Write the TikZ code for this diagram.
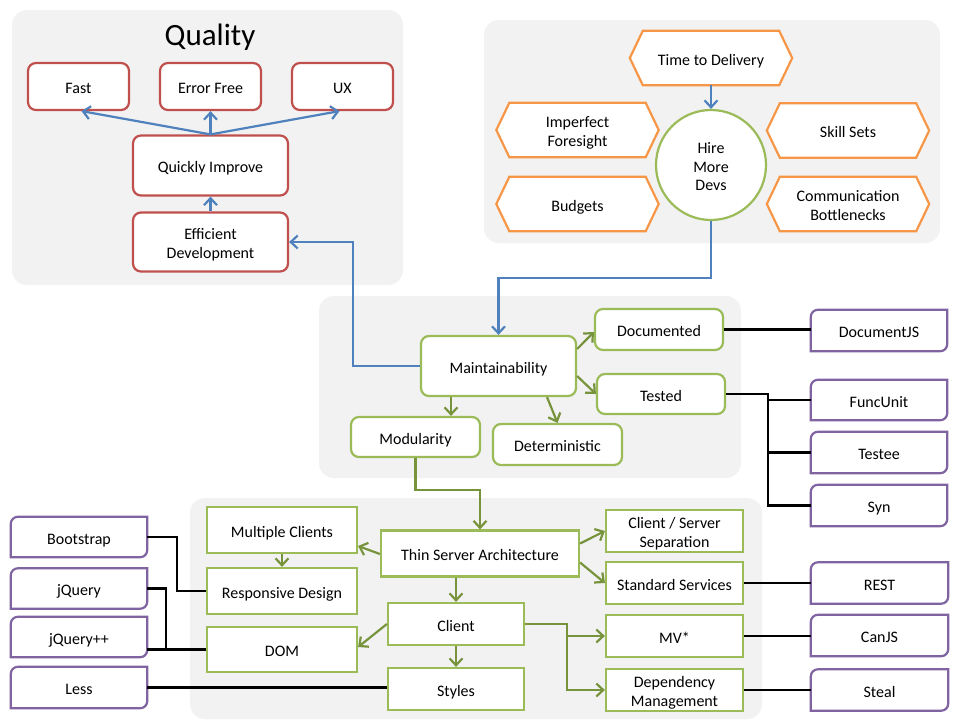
\documentclass[tikz,border=0pt]{standalone}
\usepackage{fontspec}
\setmainfont{Carlito}
\usetikzlibrary{arrows.meta,calc}
\pgfdeclarelayer{bg}\pgfdeclarelayer{mid}\pgfsetlayers{bg,mid,main}
\definecolor{qred}{HTML}{C0504D}
\definecolor{qblue}{HTML}{4F81BD}
\definecolor{qorange}{HTML}{F79646}
\definecolor{qgreen}{HTML}{9BBB59}
\definecolor{qdgreen}{HTML}{77933C}
\definecolor{qpurple}{HTML}{8064A2}
\definecolor{qpanel}{HTML}{F2F2F2}
\newcommand\tstrut{\rule{0pt}{18pt}}
\newcommand\bstrut{\rule[-4pt]{0pt}{4pt}}
\begin{document}
\begin{tikzpicture}[x=1pt,y=-1pt,
  txt/.style={font=\fontsize{16pt}{18.5pt}\selectfont, align=center, inner sep=0pt,
    execute at begin node={\tstrut},
    execute at end node={\bstrut}},
  sz/.style 2 args={minimum width=#1pt, minimum height=#2pt},
  redbox/.style={txt, draw=qred, line width=2.2pt, rounded corners=8pt, fill=white},
  grbox/.style={txt, draw=qgreen, line width=2.2pt, rounded corners=8pt, fill=white},
  gsbox/.style={txt, draw=qgreen, line width=2.2pt, fill=white},
  hexbox/.style={txt, draw=none},
  purpbox/.style={txt, draw=none},
  hexline/.style={draw=qorange, line width=2.2pt, fill=white},
  purpline/.style={draw=qpurple, line width=2.2pt, fill=white},
  barrow/.style={draw=qblue, line width=2.2pt, -{Straight Barb[length=7pt,width=13pt]}},
  garrow/.style={draw=qdgreen, line width=2.2pt, -{Straight Barb[length=7pt,width=13pt]}},
  kline/.style={draw=black, line width=2.4pt},
  panel/.style={fill=qpanel, rounded corners=15pt}]
\useasboundingbox (0,0) rectangle (960,720);
\begin{pgfonlayer}{bg}
  \fill[white] (0,0) rectangle (960,720);
  \fill[panel] (12,10) rectangle (403,285);
  \fill[panel] (484,20) rectangle (940,243);
  \fill[panel] (319,296) rectangle (741,478);
  \fill[panel] (190,498) rectangle (762,719);
\end{pgfonlayer}

% Quality
\node[inner sep=0pt, font=\fontsize{31pt}{36pt}\selectfont, anchor=base] (title) at (210,45) {Quality};
\node[redbox, sz={101}{47}] (fast) at (78.5,86.5) {Fast};
\node[redbox, sz={101}{47}] (errfree) at (210.5,86.5) {Error Free};
\node[redbox, sz={101}{47}] (ux) at (342.5,86.5) {UX};
\node[redbox, sz={155}{60}] (qi) at (210.5,165.5) {Quickly Improve};
\node[redbox, sz={155}{59}] (eff) at (210.5,242) {\tstrut Efficient\\Development\bstrut};

% Time to delivery panel
\node[hexbox, sz={162}{54}] (td) at (711,58) {Time to Delivery};
\node[hexbox, sz={162}{54}] (imp) at (577.5,130) {\tstrut Imperfect\\Foresight\bstrut};
\node[hexbox, sz={162}{54}] (bud) at (577.5,204) {Budgets};
\node[hexbox, sz={162}{54}] (skl) at (848,130.5) {Skill Sets};
\node[hexbox, sz={162}{54}] (com) at (848,204) {\tstrut Communication\\Bottlenecks\bstrut};
\node[txt, circle, draw=qgreen, line width=2.2pt, fill=white, minimum size=110pt] (hire) at (711,165) {\tstrut Hire\\More\\Devs\bstrut};

% Maintainability panel
\node[grbox, sz={155}{60}] (maint) at (498.5,366) {Maintainability};
\node[grbox, sz={128}{41}] (doc) at (659,329.5) {Documented};
\node[grbox, sz={128}{40}] (tested) at (661,394) {Tested};
\node[grbox, sz={129}{40}] (mod) at (415.5,437) {Modularity};
\node[grbox, sz={129}{41}] (det) at (557.5,444.5) {Deterministic};

% Thin server panel
\node[gsbox, sz={150}{46}] (multi) at (282,530) {Multiple Clients};
\node[gsbox, sz={150}{46}] (resp) at (282,591) {Responsive Design};
\node[gsbox, sz={150}{45}] (dom) at (282,649.5) {DOM};
\node[gsbox, sz={198}{46}] (thin) at (480,553.5) {Thin Server Architecture};
\node[gsbox, sz={136}{42}] (client) at (456,624) {Client};
\node[gsbox, sz={136}{42}] (styles) at (456,689) {Styles};
\node[gsbox, sz={137}{42}] (cssep) at (674.5,531) {\tstrut Client / Server\\Separation\bstrut};
\node[gsbox, sz={137}{42}] (std) at (674.5,583) {Standard Services};
\node[gsbox, sz={137}{42}] (mv) at (674.5,636) {MV*};
\node[gsbox, sz={137}{42}] (dep) at (674.5,690) {\tstrut Dependency\\Management\bstrut};

% Libraries
\node[purpbox, sz={136}{41}] (docjs) at (879,330.5) {DocumentJS};
\node[purpbox, sz={136}{40}] (funcunit) at (879,400) {FuncUnit};
\node[purpbox, sz={136}{41}] (testee) at (879,452.5) {Testee};
\node[purpbox, sz={136}{41}] (syn) at (879,505.5) {Syn};
\node[purpbox, sz={137}{41}] (rest) at (879.5,583) {REST};
\node[purpbox, sz={137}{41}] (canjs) at (879.5,635.5) {CanJS};
\node[purpbox, sz={137}{41}] (steal) at (879.5,690) {Steal};
\node[purpbox, sz={136}{40}] (boot) at (79,537) {Bootstrap};
\node[purpbox, sz={136}{40}] (jq) at (79,588.5) {jQuery};
\node[purpbox, sz={136}{40}] (jqpp) at (79,637) {jQuery++};
\node[purpbox, sz={136}{41}] (less) at (79,687.5) {Less};

\begin{pgfonlayer}{mid}
  \foreach \n in {td,imp,bud,skl,com}
    \draw[hexline] ([xshift=13pt]\n.north west) -- ([xshift=-13pt]\n.north east) -- (\n.east)
      -- ([xshift=-13pt]\n.south east) -- ([xshift=13pt]\n.south west) -- (\n.west) -- cycle;
  \foreach \n in {docjs,funcunit,testee,syn,rest,canjs,steal,boot,jq,jqpp,less}
    \draw[purpline] (\n.south west) -- ([yshift=-7pt]\n.north west)
      arc[start angle=180, end angle=90, radius=7pt] -- (\n.north east)
      -- ([yshift=7pt]\n.south east) arc[start angle=0, end angle=-90, radius=7pt] -- cycle;
\end{pgfonlayer}

% Blue connectors
\draw[barrow] (qi.north) -- ([xshift=3pt]fast.south);
\draw[barrow] (qi.north) -- (errfree.south);
\draw[barrow] (qi.north) -- ([xshift=-3pt]ux.south);
\draw[barrow] (eff.north) -- (qi.south);
\draw[barrow] (maint.west) -- ++(-67,0) |- (eff.east);
\draw[barrow] (td.south) -- (hire.north);
\draw[barrow] (hire.south) -- ++(0,57) -| (maint.north);

% Green connectors (middle)
\draw[garrow] ([yshift=17pt]maint.east) -- ([yshift=-2.5pt]doc.west);
\draw[garrow] ([yshift=-10pt]maint.east) -- (tested.west);
\draw[garrow] ([xshift=-47.5pt]maint.south) -- ([xshift=-47.5pt]maint.south |- mod.north);
\draw[garrow] ([xshift=48.5pt]maint.south) -- (det.north);
\draw[garrow] (mod.south) -- ++(0,32) -| (thin.north);

% Green connectors (bottom)
\draw[garrow] ([yshift=-0.5pt]thin.west) -- ([yshift=-16pt]multi.east);
\draw[garrow] (multi.south) -- (resp.north);
\draw[garrow] (thin.south -| client.north) -- (client.north);
\draw[garrow] (client.west) -- ([yshift=2.5pt]dom.east);
\draw[garrow] (client.south) -- (styles.north);
\draw[garrow] ([yshift=10pt]thin.east) -- (cssep.west);
\draw[garrow] ([yshift=-9pt]thin.east) -- (std.west);
\draw[garrow] (client.east) -- ++(42,0) |- (mv.west);
\draw[garrow] ([xshift=42pt]client.east) |- (dep.west);

% Black connectors
\draw[kline] (doc.east) -- (doc.east -| docjs.west);
\draw[kline] (tested.east) -| ([xshift=-43pt]syn.west) -- (syn.west);
\draw[kline] ([xshift=-44.2pt]funcunit.west) -- (funcunit.west);
\draw[kline] ([xshift=-44.2pt]testee.west) -- (testee.west);
\draw[kline] (std.east) -- (rest.west);
\draw[kline] (mv.east) -- (mv.east -| canjs.west);
\draw[kline] (dep.east) -- (dep.east -| steal.west);
\draw[kline] (boot.east) -- ++(30,0) |- (resp.west);
\draw[kline] (jq.east) -- ++(19,0) |- (dom.west);
\draw[kline] (jqpp.east |- dom.west) -- (dom.west);
\draw[kline] (less.east) -- (less.east -| styles.west);
\end{tikzpicture}
\end{document}
